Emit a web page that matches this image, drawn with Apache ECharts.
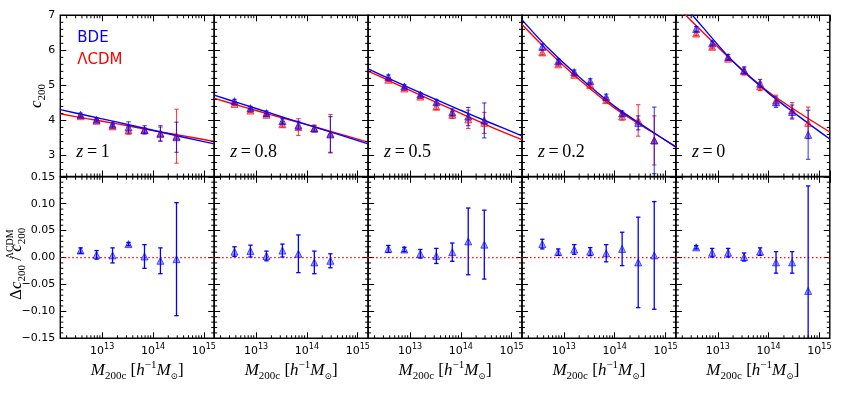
<!DOCTYPE html>
<html>
<head>
<meta charset="utf-8">
<script src="https://cdn.jsdelivr.net/npm/echarts@6/dist/echarts.min.js"></script>
<style>
html, body { margin: 0; padding: 0; background: #fff; }
#main { width: 843px; height: 394px; }
</style>
</head>
<body>
<div id="main"></div>
<script>
// halo mass bins [h^-1 Msun]
var massBins = [3.76e12, 7.75e12, 1.6e13, 3.3e13, 6.8e13, 1.4e14, 2.9e14, 6.0e14];
var redshifts = ['1', '0.8', '0.5', '0.2', '0'];

// c200 per bin, one row per panel (z = 1, 0.8, 0.5, 0.2, 0)
var cBDE = [
    [4.16, 4.02, 3.88, 3.80, 3.73, 3.63, 3.52],
    [4.55, 4.35, 4.21, 3.98, 3.86, 3.77, 3.60],
    [5.24, 4.97, 4.74, 4.52, 4.23, 4.11, 4.00],
    [6.10, 5.69, 5.38, 5.12, 4.67, 4.20, 3.93, 3.43],
    [6.61, 6.20, 5.81, 5.43, 5.05, 4.52, 4.24, 3.59]
];
var errBDE = [
    [0.05, 0.04, 0.05, 0.16, 0.12, 0.22, 0.43],
    [0.05, 0.05, 0.06, 0.07, 0.12, 0.08, 0.51],
    [0.06, 0.05, 0.05, 0.08, 0.10, 0.26, 0.50],
    [0.08, 0.06, 0.06, 0.07, 0.08, 0.07, 0.20, 0.95],
    [0.07, 0.06, 0.07, 0.10, 0.12, 0.15, 0.20, 0.70]
];
var cLCDM = [
    [4.12, 3.99, 3.83, 3.71, 3.72, 3.61, 3.55],
    [4.47, 4.28, 4.16, 3.89, 3.81, 3.77, 3.62],
    [5.16, 4.91, 4.68, 4.39, 4.16, 4.03, 3.93],
    [5.94, 5.60, 5.30, 5.01, 4.58, 4.11, 4.00, 3.43],
    [6.48, 6.10, 5.76, 5.40, 4.97, 4.57, 4.29, 3.93]
];
var errLCDM = [
    [0.05, 0.04, 0.05, 0.10, 0.07, 0.20, 0.77],
    [0.04, 0.05, 0.05, 0.08, 0.24, 0.10, 0.55],
    [0.05, 0.05, 0.05, 0.08, 0.10, 0.26, 0.30],
    [0.07, 0.05, 0.05, 0.07, 0.08, 0.10, 0.45, 0.70],
    [0.06, 0.06, 0.05, 0.10, 0.12, 0.15, 0.22, 0.45]
];

var fitMass = [1.5e12, 5e12, 2e13, 1e14, 4e14, 1.6e15];
var fitBDE = [
    [4.31, 4.14, 3.95, 3.72, 3.52, 3.33],
    [4.72, 4.48, 4.20, 3.88, 3.61, 3.33],
    [5.47, 5.12, 4.73, 4.29, 3.92, 3.56],
    [6.87, 6.05, 5.24, 4.40, 3.81, 3.24],
    [7.56, 6.67, 5.68, 4.78, 4.11, 3.47]
];
var fitLCDM = [
    [4.19, 4.05, 3.90, 3.71, 3.56, 3.40],
    [4.63, 4.41, 4.16, 3.88, 3.63, 3.38],
    [5.41, 5.06, 4.66, 4.20, 3.81, 3.45],
    [6.74, 5.97, 5.17, 4.35, 3.79, 3.25],
    [7.28, 6.53, 5.68, 4.81, 4.22, 3.67]
];

// relative difference BDE vs LCDM
var dRel = [
    [0.013, 0.005, 0.004, 0.025, 0.002, -0.006, -0.003],
    [0.011, 0.012, 0.003, 0.013, 0.007, -0.009, -0.006],
    [0.016, 0.015, 0.007, 0.003, 0.010, 0.030, 0.024],
    [0.025, 0.010, 0.015, 0.011, 0.008, 0.016, -0.009, 0.004],
    [0.019, 0.009, 0.009, 0.001, 0.011, -0.009, -0.009, -0.062]
];
var dErr = [
    [0.005, 0.008, 0.014, 0.003, 0.022, 0.024, 0.105],
    [0.009, 0.011, 0.009, 0.012, 0.035, 0.021, 0.013],
    [0.0065, 0.004, 0.008, 0.014, 0.017, 0.062, 0.064],
    [0.009, 0.006, 0.009, 0.0075, 0.016, 0.031, 0.084, 0.10],
    [0.003, 0.008, 0.008, 0.0075, 0.007, 0.020, 0.020, 0.195]
];

var xMin = 1.5e12, xMax = 1.6e15;
var topRange = [2.4, 7], botRange = [-0.15, 0.15];

// layout
var panelLeft = 60.3, panelW = 153.9;
var topRow = { top: 15.3, height: 161.2 };
var botRow = { top: 176.8, height: 161.5 };

var BLUE = '#0000ff', RED = '#ff0000';
var SANS = '"DejaVu Sans", sans-serif';
var SERIF = '"Liberation Serif", "DejaVu Serif", serif';

// minor tick positions
var xMinor = [];
for (var n = 12; n <= 15; n++) {
    for (var k = 2; k <= 9; k++) {
        var mv = k * Math.pow(10, n);
        if (mv > xMin && mv < xMax) xMinor.push(mv);
    }
}
var yMinorTop = [];
for (var i = 13; i < 35; i++) { if (i % 5 !== 0) yMinorTop.push(i * 0.2); }
var yMinorBot = [];
for (var i = -14; i <= 14; i++) { if (i % 5 !== 0) yMinorBot.push(i / 100); }

var mathRich = {
    i: { fontFamily: SERIF, fontStyle: 'italic', fontSize: 17, lineHeight: 22, color: '#000' },
    r: { fontFamily: SERIF, fontSize: 17, lineHeight: 22, color: '#000' },
    sub: { fontFamily: SERIF, fontSize: 11, lineHeight: 11, verticalAlign: 'bottom', color: '#000' },
    subd: { fontFamily: '"DejaVu Serif", serif', fontSize: 9, lineHeight: 10, verticalAlign: 'bottom', color: '#000' },
    sup: { fontFamily: SERIF, fontSize: 11, lineHeight: 11, verticalAlign: 'top', color: '#000' },
    supz: { fontFamily: SERIF, fontSize: 10, lineHeight: 11, verticalAlign: 'top', width: 0, align: 'left', color: '#000' }
};

var grids = [], xAxes = [], yAxes = [], series = [];

function tickStyle(len) {
    return { show: true, inside: true, length: len, lineStyle: { color: '#000', width: 1 } };
}

function minorTicks(g, yMinor, yRef) {
    return {
        type: 'custom', xAxisIndex: 2 * g, yAxisIndex: 2 * g, silent: true, z: 5,
        data: [[1e14, yRef]],
        renderItem: function (params, api) {
            var cs = params.coordSys;
            var ch = [];
            var st = { stroke: '#000', lineWidth: 1 };
            xMinor.forEach(function (m) {
                var px = api.coord([m, yRef])[0];
                ch.push({ type: 'line', shape: { x1: px, y1: cs.y + cs.height, x2: px, y2: cs.y + cs.height - 3 }, style: st });
                ch.push({ type: 'line', shape: { x1: px, y1: cs.y, x2: px, y2: cs.y + 3 }, style: st });
            });
            yMinor.forEach(function (v) {
                var py = api.coord([1e14, v])[1];
                ch.push({ type: 'line', shape: { x1: cs.x, y1: py, x2: cs.x + 3, y2: py }, style: st });
                ch.push({ type: 'line', shape: { x1: cs.x + cs.width, y1: py, x2: cs.x + cs.width - 3, y2: py }, style: st });
            });
            return { type: 'group', children: ch };
        }
    };
}

function errorBars(g, rows, color, width) {
    return {
        type: 'custom', xAxisIndex: 2 * g, yAxisIndex: 2 * g, silent: true, z: 3,
        data: rows,
        renderItem: function (params, api) {
            var cs = params.coordSys;
            var x = api.value(0), y = api.value(1), e = api.value(2);
            var hi = api.coord([x, y + e]), lo = api.coord([x, y - e]);
            var top = cs.y, bot = cs.y + cs.height;
            var st = { stroke: color, lineWidth: width };
            var ch = [];
            var y1 = Math.max(hi[1], top), y2 = Math.min(lo[1], bot);
            ch.push({ type: 'line', shape: { x1: hi[0], y1: y1, x2: lo[0], y2: y2 }, style: st });
            if (hi[1] >= top) ch.push({ type: 'line', shape: { x1: hi[0] - 2.2, y1: hi[1], x2: hi[0] + 2.2, y2: hi[1] }, style: st });
            if (lo[1] <= bot) ch.push({ type: 'line', shape: { x1: lo[0] - 2.2, y1: lo[1], x2: lo[0] + 2.2, y2: lo[1] }, style: st });
            return { type: 'group', children: ch };
        }
    };
}

function pairs(xs, ys) {
    return ys.map(function (v, j) { return [xs[j], v]; });
}
function triples(xs, ys, es) {
    return ys.map(function (v, j) { return [xs[j], v, es[j]]; });
}

for (var r = 0; r < 2; r++) {
    for (var p = 0; p < 5; p++) {
        var g = r * 5 + p;
        var row = r === 0 ? topRow : botRow;
        var range = r === 0 ? topRange : botRange;
        grids.push({
            left: panelLeft + p * panelW, top: row.top, width: panelW, height: row.height,
            show: true, borderColor: '#000', borderWidth: 1.4, backgroundColor: 'transparent'
        });

        var xBase = {
            type: 'log', logBase: 10, min: xMin, max: xMax, gridIndex: g,
            axisLine: { show: false, onZero: false },
            splitLine: { show: false },
            axisTick: tickStyle(6)
        };
        var xb = Object.assign({}, xBase, {
            position: 'bottom',
            axisLabel: {
                show: r === 1, margin: 5, showMinLabel: false, showMaxLabel: false,
                formatter: function (v) { return '{b|10}{s|' + Math.round(Math.log10(v)) + '}'; },
                rich: {
                    b: { fontFamily: SANS, fontSize: 11, lineHeight: 15, color: '#000' },
                    s: { fontFamily: SANS, fontSize: 8, lineHeight: 9, verticalAlign: 'top', color: '#000' }
                }
            }
        });
        if (r === 1) {
            xb.name = '{i|M}{sub|200c}{r| [}{i|h}{sup|\u22121}{i|M}{subd|\u2299}{r|]}';
            xb.nameLocation = 'middle';
            xb.nameGap = 21;
            xb.nameMoveOverlap = false;
            xb.nameTextStyle = { rich: mathRich };
        }
        xAxes.push(xb);
        xAxes.push(Object.assign({}, xBase, { position: 'top', axisLabel: { show: false } }));

        var yBase = {
            type: 'value', min: range[0], max: range[1], gridIndex: g,
            axisLine: { show: false, onZero: false },
            splitLine: { show: false },
            axisTick: tickStyle(6)
        };
        if (r === 1) yBase.interval = 0.05;
        var yl = Object.assign({}, yBase, {
            position: 'left',
            axisLabel: {
                show: p === 0, margin: 5, showMinLabel: r === 1,
                fontFamily: SANS, fontSize: 11, color: '#000',
                formatter: r === 0 ? function (v) { return String(v); }
                    : function (v) { return (v < -1e-9 ? '\u2212' : '') + Math.abs(v).toFixed(2); }
            }
        });
        if (p === 0) {
            yl.nameLocation = 'middle';
            yl.nameRotate = 90;
            yl.nameMoveOverlap = false;
            yl.nameTextStyle = { rich: mathRich };
            if (r === 0) {
                yl.name = '{i|c}{sub|200}';
                yl.nameGap = 13;
            } else {
                yl.name = '{r|\u0394}{i|c}{sub|200}{r| / }{i|c}{supz|\u039BCDM}{sub|200}{r|   }';
                yl.nameGap = 33;
            }
        }
        yAxes.push(yl);
        yAxes.push(Object.assign({}, yBase, { position: 'right', axisLabel: { show: false } }));

        if (r === 0) {
            series.push(minorTicks(g, yMinorTop, 4));
            series.push({
                type: 'line', xAxisIndex: 2 * g, yAxisIndex: 2 * g, data: pairs(fitMass, fitLCDM[p]),
                showSymbol: false, smooth: 0.3, lineStyle: { color: RED, width: 1.4 }, z: 2, silent: true
            });
            series.push({
                type: 'line', xAxisIndex: 2 * g, yAxisIndex: 2 * g, data: pairs(fitMass, fitBDE[p]),
                showSymbol: false, smooth: 0.3, lineStyle: { color: BLUE, width: 1.4 }, z: 2, silent: true
            });
            series.push(errorBars(g, triples(massBins, cLCDM[p], errLCDM[p]), 'rgba(255,0,0,0.75)', 1.1));
            series.push({
                type: 'scatter', xAxisIndex: 2 * g, yAxisIndex: 2 * g, data: pairs(massBins, cLCDM[p]),
                symbol: 'triangle', symbolSize: 7, z: 4, silent: true,
                itemStyle: { color: 'rgba(255,0,0,0.5)', borderColor: 'rgba(255,0,0,0.8)', borderWidth: 1 }
            });
            series.push(errorBars(g, triples(massBins, cBDE[p], errBDE[p]), 'rgba(0,0,255,0.75)', 1.1));
            series.push({
                type: 'scatter', xAxisIndex: 2 * g, yAxisIndex: 2 * g, data: pairs(massBins, cBDE[p]),
                symbol: 'triangle', symbolSize: 7, z: 4, silent: true,
                itemStyle: { color: 'rgba(0,0,255,0.5)', borderColor: 'rgba(0,0,255,0.8)', borderWidth: 1 }
            });
        } else {
            series.push(minorTicks(g, yMinorBot, 0));
            // zero reference line across the panel
            series.push({
                type: 'line', xAxisIndex: 2 * g, yAxisIndex: 2 * g, data: [[xMin, 0], [xMax, 0]],
                showSymbol: false, silent: true, z: 2,
                lineStyle: { color: RED, type: [1.5, 2.5], width: 1.3 }
            });
            series.push(errorBars(g, triples(massBins, dRel[p], dErr[p]), BLUE, 1.3));
            series.push({
                type: 'scatter', xAxisIndex: 2 * g, yAxisIndex: 2 * g, data: pairs(massBins, dRel[p]),
                symbol: 'triangle', symbolSize: 7, z: 4, silent: true,
                itemStyle: { color: 'rgba(0,0,255,0.45)', borderColor: 'rgba(0,0,255,0.8)', borderWidth: 1 }
            });
        }
    }
}

// texts: legend words and redshift labels
var graphics = [
    { type: 'text', x: panelLeft + 17, y: 38.5, style: { text: 'BDE', font: '15px ' + SANS, fill: BLUE, verticalAlign: 'middle' } },
    { type: 'text', x: panelLeft + 17, y: 60, style: { text: '\u039BCDM', font: '15px ' + SANS, fill: RED, verticalAlign: 'middle' } }
];
redshifts.forEach(function (z, p) {
    graphics.push({
        type: 'text', x: panelLeft + p * panelW + 16, y: 152,
        style: {
            text: '{i|z}{r|\u2009=\u2009' + z + '}', verticalAlign: 'middle',
            rich: {
                i: { fontFamily: SERIF, fontStyle: 'italic', fontSize: 18, fill: '#000' },
                r: { fontFamily: SERIF, fontSize: 18, fill: '#000' }
            }
        }
    });
});

var chart = echarts.init(document.getElementById('main'));
chart.setOption({
    animation: false,
    backgroundColor: '#fff',
    grid: grids,
    xAxis: xAxes,
    yAxis: yAxes,
    series: series,
    graphic: graphics
});
</script>
</body>
</html>
